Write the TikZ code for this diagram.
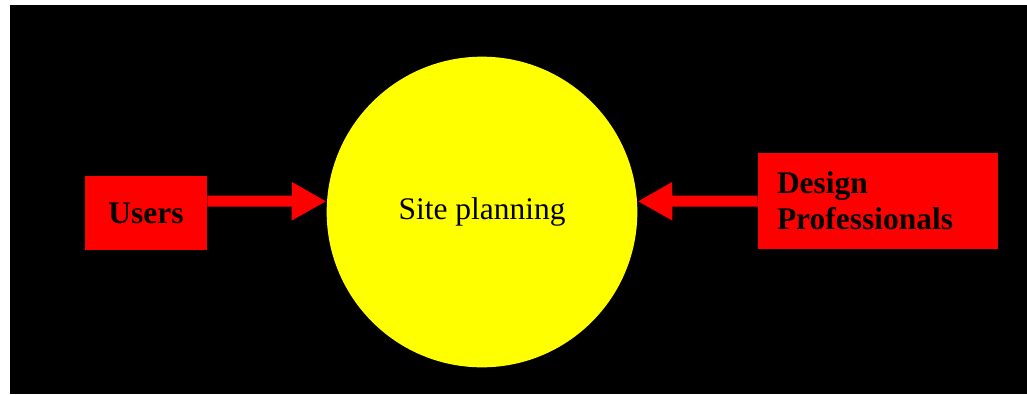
\documentclass[tikz,border=0pt]{standalone}
\usepackage{fontspec}
\setmainfont{Liberation Serif}
\definecolor{siteyellow}{RGB}{255, 255, 0}
\definecolor{boxred}{RGB}{255, 0, 0}
\usepackage{tikz}
\usetikzlibrary{arrows.meta, positioning, calc}

\begin{document}
\begin{tikzpicture}[x=0.75pt, y=-0.75pt,
    actor/.style={fill=boxred, font=\fontsize{23.6}{27}\selectfont\bfseries},
    flow/.style={draw=boxred, line width=8.25pt, -{Triangle[length=26pt, width=27pt]}}]
  \useasboundingbox (0,0) rectangle (1027,394);
  \fill[black] (10,5) rectangle (1027,394);
  % the planning activity
  \node[circle, fill=siteyellow, minimum size=233pt, inner sep=0pt,
        font=\fontsize{23.6}{27}\selectfont] (site) at (482,212) {Site planning};
  % who takes part
  \node[actor, minimum width=91.5pt, minimum height=55.5pt, inner sep=0pt] (users) at (146,213) {Users};
  \node[actor, text width=151.5pt, inner xsep=14.25pt, minimum height=72pt, align=left] (design) at (878,201) {Design\\Professionals};
  \draw[flow] ([yshift=9pt]users.east) -- ([yshift=8pt]site.west);
  \draw[flow] (design.west) -- ([yshift=8pt]site.east);
\end{tikzpicture}
\end{document}
